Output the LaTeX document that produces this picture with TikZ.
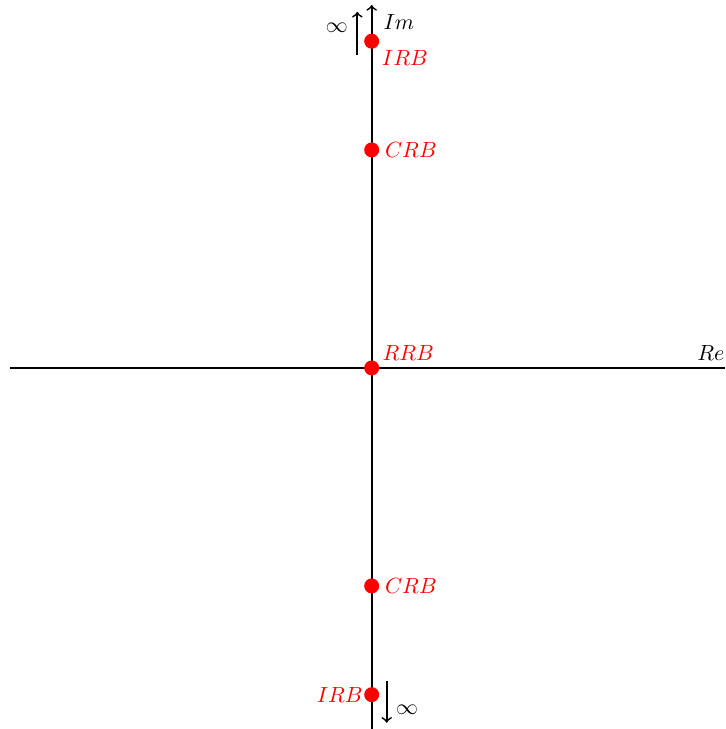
\documentclass[tikz,border=0pt]{standalone}
\usetikzlibrary{positioning}
\tikzset{
  pole/.style={circle,fill=red,inner sep=0pt,minimum size=0.24cm},
  polelbl/.style={red,inner sep=1pt},
}
\begin{document}
\begin{tikzpicture}[thick]
			\useasboundingbox (-5.95,-5.78) rectangle (5.66,5.89);
			% axes
			\coordinate (xl) at (-5.79,0);
			\coordinate (xr) at (5.66,0);
			\coordinate (yb) at (0,-5.78);
			\coordinate (yt) at (0,5.81);
			\draw (xl)--(xr) node[above left,inner sep=0pt,yshift=0.1cm]{$Re$};
			\draw[->] (yb)--(yt);
			\node[right=0.14cm of yt,anchor=north west,inner sep=1pt,yshift=-0.1cm] (im) {$Im$};
			% poles
			\node[pole] (irbt) at (0,5.23) {};
			\node[pole] (crbt) at (0,3.49) {};
			\node[pole] (rrb) at (0,0) {};
			\node[pole] (crbb) at (0,-3.49) {};
			\node[pole] (irbb) at (0,-5.23) {};
			\node[polelbl,below right=0.0cm and 0.02cm of irbt] {$IRB$};
			\node[polelbl,right=0.03cm of crbt] {$CRB$};
			\node[polelbl,above right=-0.02cm and 0.03cm of rrb] {$RRB$};
			\node[polelbl,right=0.03cm of crbb] {$CRB$};
			\node[polelbl,left=-0.04cm of irbb] {$IRB$};
			% going to infinity
			\coordinate (at0) at (-0.23,5.01);
			\coordinate (at1) at (-0.23,5.70);
			\coordinate (ab0) at (0.24,-5.01);
			\coordinate (ab1) at (0.24,-5.68);
			\draw[->] (at0)--(at1);
			\draw[->] (ab0)--(ab1);
			\node[left=0.02cm of at1,anchor=north east,yshift=-0.05cm] (inft) {$\infty$};
			\node[right=0.02cm of ab1,anchor=south west,yshift=0.0cm] (infb) {$\infty$};
\end{tikzpicture}
\end{document}
